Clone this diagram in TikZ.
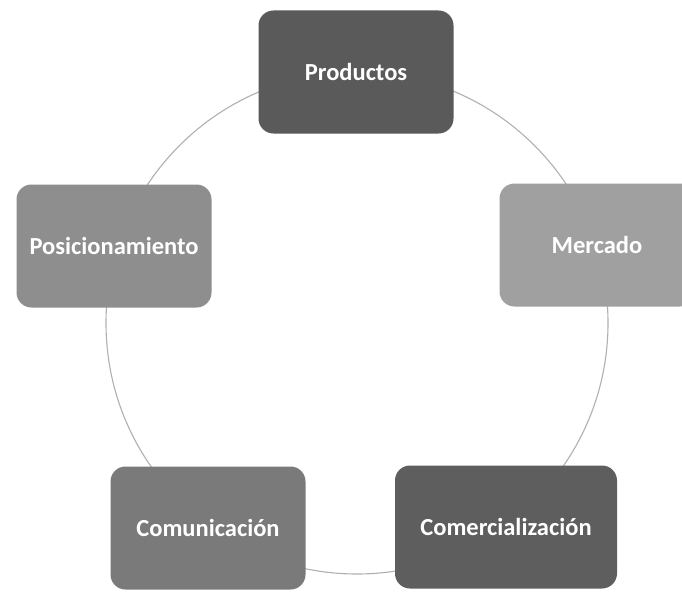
\documentclass[tikz,border=0pt]{standalone}
\usepackage{fontspec}
\setmainfont{Carlito}
\definecolor{ring}{HTML}{B0B0B0}
\definecolor{cdark}{HTML}{5A5A5A}
\definecolor{clight}{HTML}{A0A0A0}
\definecolor{cmid}{HTML}{8E8E8E}
\definecolor{cmid2}{HTML}{7A7A7A}
\definecolor{cdark2}{HTML}{5E5E5E}
\tikzset{
  box/.style={rounded corners=15pt, minimum width=195pt, minimum height=123pt,
    inner sep=0pt, text=white, font=\bfseries\fontsize{24.5}{28}\selectfont, draw=none},
}
\begin{document}
\begin{tikzpicture}[x=1pt,y=-1pt]
\useasboundingbox (0,0) rectangle (682,594);
\clip (0,0) rectangle (682,594);
\fill[white] (0,0) rectangle (682,594);
\coordinate (c) at (357,323);
\draw[ring, line width=1.1pt] (c) circle[radius=251pt];
\node[box, fill=cdark] (prod) at (356,72) {Productos};
\node[box, fill=clight] (merc) at (597,245) {Mercado};
\node[box, fill=cmid] (pos) at (114,246) {Posicionamiento};
\node[box, fill=cmid2] (comu) at (208,528) {Comunicación};
\node[box, fill=cdark2, minimum width=222pt] (come) at (506,527) {Comercialización};
\end{tikzpicture}
\end{document}
